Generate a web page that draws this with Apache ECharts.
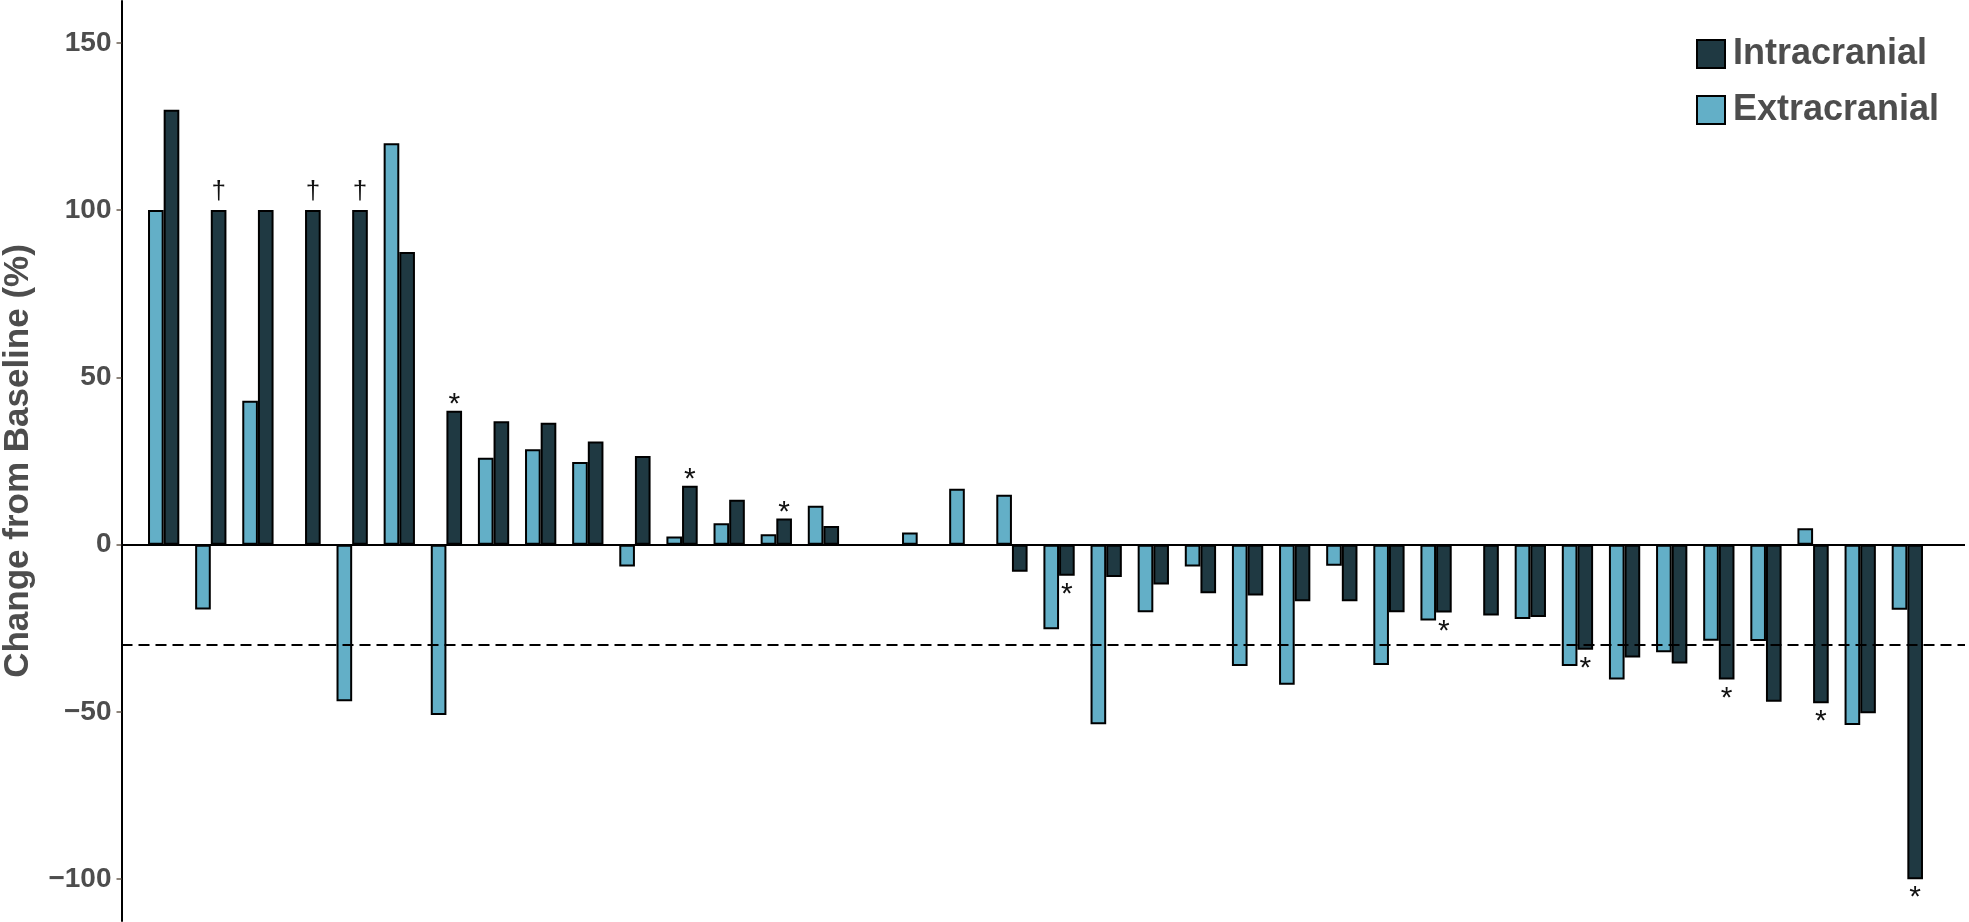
<!DOCTYPE html>
<html>
<head>
<meta charset="utf-8">
<script src="https://cdn.jsdelivr.net/npm/echarts@6/dist/echarts.min.js"></script>
<style>
html,body{margin:0;padding:0;background:#ffffff;}
#chart{width:1969px;height:922px;}
</style>
</head>
<body>
<div id="chart"></div>
<script>
// ---- data ----
const patients = ['P1','P2','P3','P4','P5','P6','P7','P8','P9','P10','P11','P12','P13','P14','P15','P16','P17','P18','P19','P20',
                  'P21','P22','P23','P24','P25','P26','P27','P28','P29','P30','P31','P32','P33','P34','P35','P36','P37','P38'];
const extracranial = [100, -19.4, 43, null, -46.8, 120, -50.9, 26, 28.5, 24.7, -6.5, 2.4, 6.4, 3.1, 11.6, null, 3.6, 16.7, 14.9, -25.3,
                      -53.7, -20.2, -6.5, -36.3, -41.9, -6.3, -36, -22.7, null, -22.2, -36.3, -40.3, -32.2, -28.7, -28.8, 4.9, -53.9, -19.5];
const intracranial = [130, 100, 100, 100, 100, 87.5, 40, 36.9, 36.4, 30.8, 26.5, 17.6, 13.4, 7.8, 5.6, null, null, null, -8.1, -9.3,
                      -9.7, -11.9, -14.5, -15.2, -16.9, -16.9, -20.2, -20.3, -21.2, -21.6, -31.4, -33.7, -35.5, -40.3, -47, -47.4, -50.4, -100];
const intracranialNotes = ['', '\u2020', '', '\u2020', '\u2020', '', '*', '', '', '', '', '*', '', '*', '', '', '', '', '', '*',
                           '', '', '', '', '', '', '', '*', '', '', '*', '', '', '*', '', '*', '', '*'];
const yTicks = [-100, -50, 0, 50, 100, 150];
const baselineValue = 0;
const thresholdValue = -30;

// ---- styles ----
const DARK = '#1f3942';
const LIGHT = '#63afc7';
const GREY = '#4d4d4d';
const FONT = '"Liberation Sans", Arial, Helvetica, sans-serif';
const Y_MIN = -112.5, Y_MAX = 162.5;
const noteStyle = {
  '*':      { fontSize: 30, top: -9, bottom: 4 },
  '\u2020': { fontSize: 26, top: 5,  bottom: 4 }
};

const intracranialData = intracranial.map((v, i) => {
  const note = intracranialNotes[i];
  if (!note || v === null) return v;
  const st = noteStyle[note];
  const up = v >= 0;
  return {
    value: v,
    label: {
      show: true,
      formatter: note,
      position: up ? 'top' : 'bottom',
      distance: up ? st.top : st.bottom,
      fontSize: st.fontSize,
      color: '#111',
      fontFamily: FONT
    }
  };
});

const chart = echarts.init(document.getElementById('chart'), null, { renderer: 'canvas' });

chart.setOption({
  animation: false,
  backgroundColor: '#ffffff',
  grid: [
    { left: 140.1, right: 38.1, top: 1, bottom: 1, containLabel: false, outerBoundsMode: 'none' },   // bars
    { left: 121.5, right: 4, top: 1, bottom: 1, containLabel: false, outerBoundsMode: 'none' }        // axis + reference lines
  ],
  legend: {
    orient: 'vertical',
    left: 1691,
    top: 31,
    itemWidth: 28,
    itemHeight: 28,
    itemGap: 20,
    icon: 'rect',
    data: ['Intracranial', 'Extracranial'],
    itemStyle: { borderColor: '#000', borderWidth: 2 },
    textStyle: { fontSize: 36, fontWeight: 'bold', color: GREY, fontFamily: FONT, lineHeight: 30, padding: [0, 0, 0, 3] }
  },
  xAxis: [
    { type: 'category', gridIndex: 0, data: patients, show: false },
    { type: 'value', gridIndex: 1, min: 0, max: 1, show: false }
  ],
  yAxis: [
    { type: 'value', gridIndex: 0, min: Y_MIN, max: Y_MAX, show: false, splitLine: { show: false } },
    {
      type: 'value', gridIndex: 1, min: Y_MIN, max: Y_MAX,
      splitLine: { show: false },
      axisLine: { show: true, onZero: false, lineStyle: { color: '#000', width: 2 } },
      axisTick: { show: true, length: 5, customValues: yTicks, lineStyle: { color: '#6a5d50', width: 1.5 } },
      axisLabel: {
        customValues: yTicks,
        margin: 10,
        fontSize: 28, fontWeight: 'bold', color: GREY, fontFamily: FONT,
        formatter: v => (v < 0 ? '\u2212' + Math.abs(v) : String(v))
      },
      name: 'Change from Baseline (%)',
      nameLocation: 'middle',
      nameRotate: 90,
      nameGap: 86,
      nameTextStyle: { fontSize: 35, fontWeight: 'bold', color: GREY, fontFamily: FONT }
    }
  ],
  series: [
    {
      name: 'Extracranial', type: 'bar', xAxisIndex: 0, yAxisIndex: 0,
      data: extracranial,
      barWidth: '33.2%', barGap: '0%',
      itemStyle: { color: LIGHT, borderColor: '#000', borderWidth: 2 },
      z: 2
    },
    {
      name: 'Intracranial', type: 'bar', xAxisIndex: 0, yAxisIndex: 0,
      data: intracranialData,
      barWidth: '33.2%', barGap: '0%',
      itemStyle: { color: DARK, borderColor: '#000', borderWidth: 2 },
      z: 2
    },
    {
      name: 'reference', type: 'line', xAxisIndex: 1, yAxisIndex: 1,
      data: [], z: 5, silent: true,
      markLine: {
        silent: true, symbol: 'none', animation: false,
        label: { show: false },
        data: [
          { yAxis: baselineValue, lineStyle: { color: '#000', width: 2, type: 'solid' } },
          { yAxis: thresholdValue, lineStyle: { color: '#000', width: 2, type: [11, 6] } }
        ]
      }
    }
  ]
});
</script>
</body>
</html>
